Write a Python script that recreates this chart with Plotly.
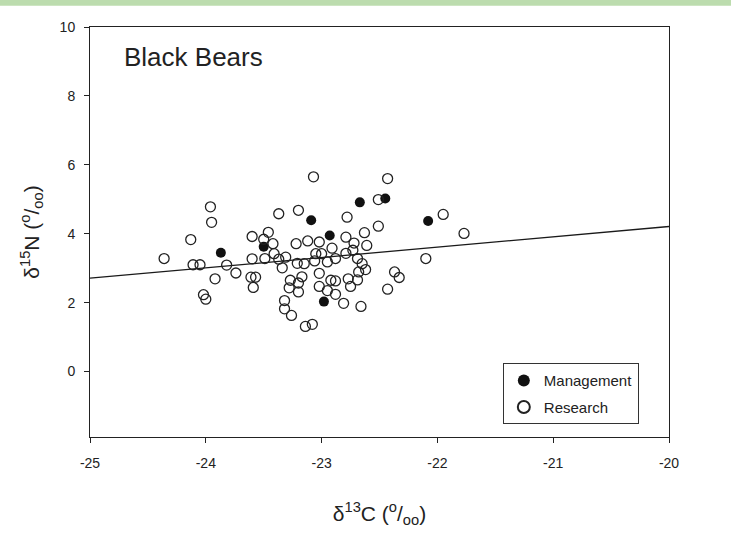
import plotly.graph_objects as go

# Management (filled) samples: d13C, d15N
mgmt_c = [-23.87, -23.50, -23.09, -22.93, -22.67, -22.45, -22.98, -22.08]
mgmt_n = [3.45, 3.62, 4.39, 3.95, 4.91, 5.02, 2.03, 4.37]

# Research (open) samples: d13C, d15N
res_c = [-24.36, -24.13, -24.11, -24.05, -24.02, -24.00, -23.96, -23.95, -23.92, -23.82,
         -23.74, -23.60, -23.46, -23.50, -23.42, -23.60, -23.49, -23.41, -23.37, -23.31,
         -23.37, -23.20, -23.61, -23.57, -23.59, -23.34, -23.27, -23.28, -23.20, -23.17,
         -23.20, -23.32, -23.32, -23.26, -23.14, -23.08, -23.07, -23.22, -23.21, -23.15,
         -23.12, -23.02, -23.05, -23.00, -23.06, -22.95, -22.91, -22.88, -22.79, -22.73,
         -22.69, -22.65, -22.62, -22.68, -22.72, -22.61, -22.79, -22.63, -23.02, -22.77,
         -22.69, -22.92, -22.88, -23.02, -22.95, -22.88, -22.75, -22.81, -22.66, -22.78,
         -22.51, -22.43, -22.51, -21.95, -21.77, -22.10, -22.37, -22.33, -22.43]
res_n = [3.28, 3.83, 3.10, 3.10, 2.23, 2.10, 4.78, 4.33, 2.69, 3.09,
         2.86, 3.92, 4.04, 3.84, 3.71, 3.27, 3.28, 3.42, 3.26, 3.32,
         4.58, 4.68, 2.74, 2.74, 2.44, 3.01, 2.65, 2.43, 2.57, 2.75,
         2.31, 2.06, 1.82, 1.63, 1.31, 1.37, 5.65, 3.71, 3.14, 3.13,
         3.79, 3.76, 3.42, 3.42, 3.21, 3.18, 3.58, 3.28, 3.43, 3.52,
         3.28, 3.13, 2.96, 2.89, 3.73, 3.66, 3.90, 4.03, 2.85, 2.69,
         2.66, 2.65, 2.63, 2.47, 2.35, 2.24, 2.47, 1.98, 1.89, 4.48,
         4.99, 5.60, 4.22, 4.56, 4.01, 3.28, 2.89, 2.73, 2.39]

# Regression line end points
fit_c = [-25, -20]
fit_n = [2.71, 4.21]

# Tick labels (hyphen minus as in the original)
x_ticks = [-25, -24, -23, -22, -21, -20]
x_ticktext = ["-25", "-24", "-23", "-22", "-21", "-20"]
y_ticks = [0, 2, 4, 6, 8, 10]
y_ticktext = ["0", "2", "4", "6", "8", "10"]

FONT = "Liberation Sans, Arial, Helvetica, sans-serif"

fig = go.Figure()
fig.add_trace(go.Scatter(x=fit_c, y=fit_n, mode="lines", showlegend=False,
                         line=dict(color="#1a1a1a", width=1.3), hoverinfo="skip"))
fig.add_trace(go.Scatter(x=mgmt_c, y=mgmt_n, mode="markers", name="Management",
                         legendgroup="a",
                         marker=dict(symbol="circle", size=10, color="#111111",
                                     line=dict(width=0))))
fig.add_trace(go.Scatter(x=res_c, y=res_n, mode="markers", name="Research",
                         legendgroup="b",
                         marker=dict(symbol="circle-open", size=10, color="#222222",
                                     line=dict(width=1.3, color="#222222"))))

fig.update_layout(
    width=731, height=533,
    margin=dict(l=90, r=62, t=27, b=96),
    paper_bgcolor="white", plot_bgcolor="white",
    font=dict(family=FONT, color="#222222", size=14),
    legend=dict(x=0.713, y=0.18, xanchor="left", yanchor="top",
                bordercolor="#333333", borderwidth=1, bgcolor="white",
                font=dict(size=15), tracegroupgap=4, traceorder="grouped",
                itemsizing="constant"),
    annotations=[dict(text="Black Bears", x=0.055, y=0.927, xref="paper", yref="paper",
                      xanchor="left", yanchor="middle", showarrow=False,
                      font=dict(size=26, color="#222222"))],
    shapes=[dict(type="rect", xref="paper", yref="paper",
                 x0=-0.16, x1=1.11, y0=1.052, y1=1.07,
                 fillcolor="#bcdcae", line=dict(width=0), layer="below")],
)
fig.update_xaxes(range=[-25, -20], tickvals=x_ticks, ticktext=x_ticktext,
                 showgrid=False, zeroline=False,
                 showline=True, linecolor="#222222", linewidth=1, mirror=True,
                 ticks="outside", ticklen=5, tickcolor="#222222", ticklabelstandoff=8,
                 title=dict(text="δ<sup>13</sup>C (<sup>o</sup>/<sub>oo</sub>)",
                            font=dict(size=21), standoff=36))
fig.update_yaxes(range=[-1.9, 10], tickvals=y_ticks, ticktext=y_ticktext,
                 showgrid=False, zeroline=False,
                 showline=True, linecolor="#222222", linewidth=1, mirror=True,
                 ticks="outside", ticklen=5, tickcolor="#222222", ticklabelstandoff=6,
                 title=dict(text="δ<sup>15</sup>N (<sup>o</sup>/<sub>oo</sub>)",
                            font=dict(size=21), standoff=14))

fig.write_html("out.html")
